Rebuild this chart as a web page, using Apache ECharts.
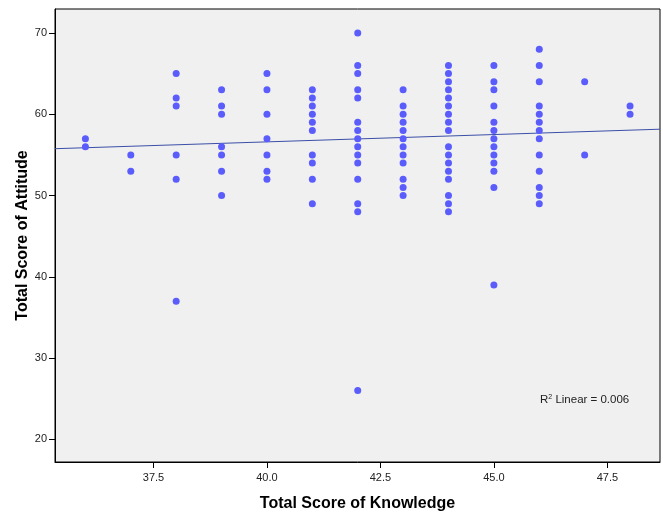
<!DOCTYPE html>
<html>
<head>
<meta charset="utf-8">
<title>Knowledge vs Attitude</title>
<script src="https://cdn.jsdelivr.net/npm/echarts@6/dist/echarts.min.js"></script>
<style>
    html, body { margin: 0; padding: 0; background: #fff; }
    #main { width: 663px; height: 512px; }
</style>
</head>
<body>
<div id="main"></div>
<script>
    // knowledge score -> attitude scores
    var knowledge = [36, 37, 38, 39, 40, 41, 42, 43, 44, 45, 46, 47, 48];
    var attitude = [
        [57, 56],
        [55, 53],
        [65, 62, 61, 55, 52, 37],
        [63, 61, 60, 56, 55, 53, 50],
        [65, 63, 60, 57, 55, 53, 52],
        [63, 62, 61, 60, 59, 58, 55, 54, 52, 49],
        [70, 66, 65, 63, 62, 59, 58, 57, 56, 55, 54, 52, 49, 48, 26],
        [63, 61, 60, 59, 58, 57, 56, 55, 54, 52, 51, 50],
        [66, 65, 64, 63, 62, 61, 60, 59, 58, 56, 55, 54, 53, 52, 50, 49, 48],
        [66, 64, 63, 61, 59, 58, 57, 56, 55, 54, 53, 51, 39],
        [68, 66, 64, 61, 60, 59, 58, 57, 55, 53, 51, 50, 49],
        [64, 55],
        [61, 60]
    ];
    // fit line end points (x, y) as drawn by SPSS
    var fitLine = [[35.33, 55.76], [48.66, 58.16]];
    var xTicks = [37.5, 40.0, 42.5, 45.0, 47.5];
    var yTicks = [20, 30, 40, 50, 60, 70];

    var points = [];
    for (var i = 0; i < knowledge.length; i++) {
        for (var j = 0; j < attitude[i].length; j++) {
            points.push([knowledge[i], attitude[i][j]]);
        }
    }

    var chart = echarts.init(document.getElementById('main'));
    var font = '"Liberation Sans", Arial, sans-serif';

    chart.setOption({
        animation: false,
        grid: {
            left: 55, top: 9, right: 3, bottom: 50,
            containLabel: false,
            outerBoundsMode: 'none',
            show: true,
            backgroundColor: '#f0f0f0',
            borderColor: '#000',
            borderWidth: 1
        },
        xAxis: {
            type: 'value',
            min: 35.33,
            max: 48.66,
            name: 'Total Score of Knowledge',
            nameLocation: 'middle',
            nameGap: 34,
            nameMoveOverlap: false,
            nameTextStyle: { fontFamily: font, fontWeight: 'bold', fontSize: 16, color: '#000' },
            axisLine: { show: true, lineStyle: { color: '#000', width: 1 } },
            axisTick: { show: true, length: 6, customValues: xTicks, lineStyle: { color: '#000' } },
            axisLabel: {
                customValues: xTicks,
                fontFamily: font, fontSize: 11, color: '#222', margin: 10,
                formatter: function (v) { return v.toFixed(1); }
            },
            splitLine: { show: false }
        },
        yAxis: {
            type: 'value',
            min: 17.21,
            max: 72.95,
            name: 'Total Score of Attitude',
            nameLocation: 'middle',
            nameGap: 24,
            nameMoveOverlap: false,
            nameTextStyle: { fontFamily: font, fontWeight: 'bold', fontSize: 16, color: '#000' },
            axisLine: { show: true, lineStyle: { color: '#000', width: 1 } },
            axisTick: { show: true, length: 6, customValues: yTicks, lineStyle: { color: '#000' } },
            axisLabel: {
                customValues: yTicks,
                fontFamily: font, fontSize: 11, color: '#222', margin: 8
            },
            splitLine: { show: false }
        },
        series: [
            {
                type: 'scatter',
                data: points,
                symbol: 'circle',
                symbolSize: 7,
                itemStyle: { color: '#5a5dfb', opacity: 1 },
                z: 3
            },
            {
                type: 'line',
                data: fitLine,
                symbol: 'none',
                lineStyle: { color: '#3c4fa8', width: 1 },
                z: 2
            }
        ],
        graphic: [
            {
                type: 'text',
                left: 540,
                top: 394,
                style: {
                    text: '{r|R}{s|2}{r| Linear = 0.006}',
                    rich: {
                        r: { fontFamily: font, fontSize: 11.5, fill: '#222', verticalAlign: 'bottom' },
                        s: { fontFamily: font, fontSize: 7, fill: '#222', verticalAlign: 'top', padding: [0, 0, 5, 0] }
                    }
                }
            }
        ]
    });
</script>
</body>
</html>
